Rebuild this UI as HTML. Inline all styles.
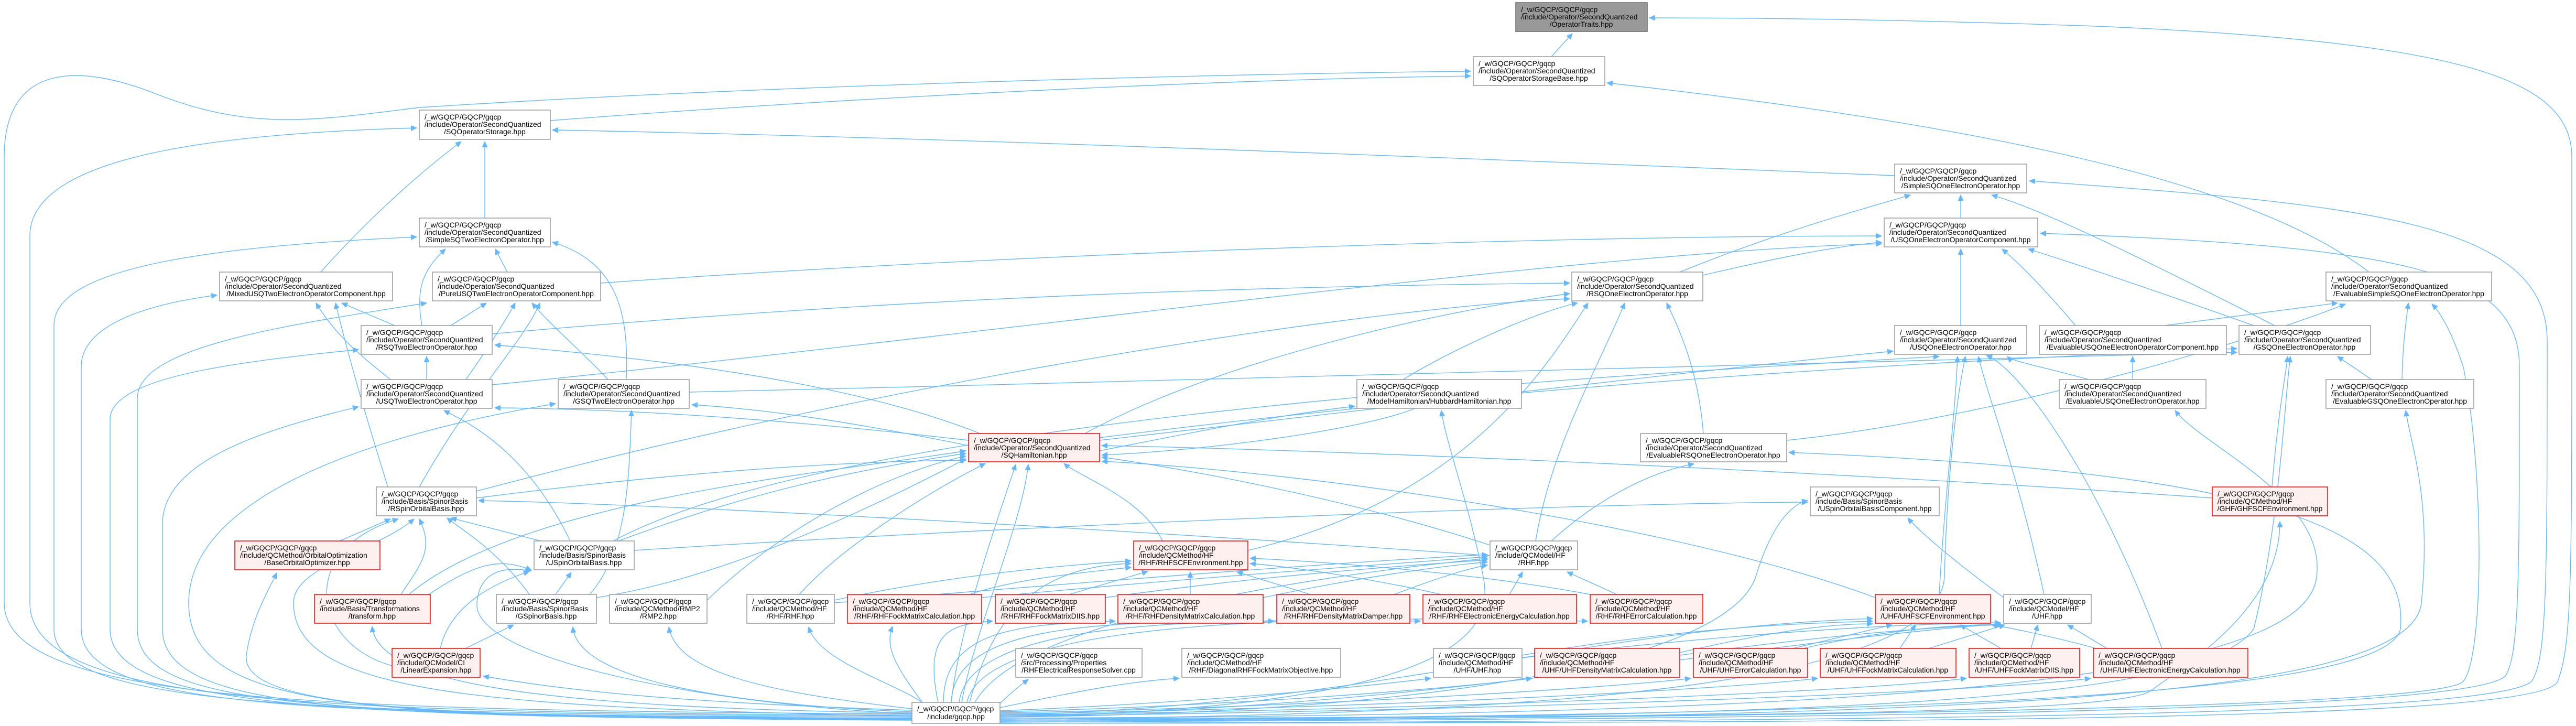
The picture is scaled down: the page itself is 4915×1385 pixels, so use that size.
<!DOCTYPE html>
<html><head><meta charset="utf-8"><style>
html,body{margin:0;padding:0;background:#fff;}
svg{display:block;}
.e{fill:none;stroke:#63b8ff;stroke-width:1.4;marker-end:url(#a);}
.n{fill:#fff;stroke:#999;stroke-width:1.5;}
.r{fill:#fff0f0;stroke:#f00;stroke-width:1.5;}
.g{fill:#999;stroke:#666;stroke-width:1.5;}
text{font-family:"Liberation Sans",sans-serif;font-size:14px;fill:#000;}
.c{text-anchor:middle;}
</style></head><body>
<svg width="4915" height="1385" viewBox="0 0 4915 1385" xmlns="http://www.w3.org/2000/svg">
<defs><marker id="a" markerUnits="userSpaceOnUse" markerWidth="12" markerHeight="10" refX="11" refY="5" orient="auto"><path d="M0,0 L11,5 L0,10 z" fill="#63b8ff" stroke="#63b8ff"/></marker></defs>
<g>
<path class="e" d="M2960,108 L3000,64"/>
<path class="e" d="M1050,230 C1700,180 2400,150 2806,145"/>
<path class="e" d="M4520,519 C4300,350 3800,240 3066,158"/>
<path class="e" d="M3615,335 C2500,290 1700,260 1054,248"/>
<path class="e" d="M925,416 L925,270"/>
<path class="e" d="M612,519 C700,420 800,330 880,270"/>
<path class="e" d="M968,519 L945,475"/>
<path class="e" d="M805,621 C795,560 800,520 850,475"/>
<path class="e" d="M1195,724 C1200,600 1180,500 1054,462"/>
<path class="e" d="M753,621 L652,578"/>
<path class="e" d="M860,621 L928,578"/>
<path class="e" d="M745,724 C690,680 640,640 603,578"/>
<path class="e" d="M889,724 C920,680 960,620 983,578"/>
<path class="e" d="M1160,724 C1120,680 1050,620 1015,578"/>
<path class="e" d="M1146,540 C2000,480 3000,450 3590,450"/>
<path class="e" d="M814,724 L814,680"/>
<path class="e" d="M939,637 C1800,560 2500,545 2995,540"/>
<path class="e" d="M939,734 C1800,650 3000,480 3590,465"/>
<path class="e" d="M1315,748 C2500,720 3800,690 4268,672"/>
<path class="e" d="M1870,827 C1600,720 1200,680 944,658"/>
<path class="e" d="M1848,840 C1500,800 1200,780 944,778"/>
<path class="e" d="M1848,850 C1600,800 1450,780 1320,772"/>
<path class="e" d="M2070,827 C2300,700 2700,600 2995,560"/>
<path class="e" d="M2098,840 C2800,760 3300,700 3612,670"/>
<path class="e" d="M2098,835 C3000,720 3900,680 4268,665"/>
<path class="e" d="M2098,860 C2300,820 2450,790 2585,775"/>
<path class="e" d="M2677,724 C2800,650 2950,590 3010,578"/>
<path class="e" d="M2700,779 C2600,820 2300,860 2102,868"/>
<path class="e" d="M909,937 C1800,700 2700,580 2995,570"/>
<path class="e" d="M909,950 C1300,900 1600,880 1843,878"/>
<path class="e" d="M740,929 C700,800 670,700 640,578"/>
<path class="e" d="M800,929 C900,750 1000,650 1030,578"/>
<path class="e" d="M1032,1032 L860,988"/>
<path class="e" d="M1088,1032 C1000,850 880,800 847,783"/>
<path class="e" d="M1210,1050 C2000,1000 3000,960 3449,958"/>
<path class="e" d="M1180,1032 C1400,950 1600,900 1843,865"/>
<path class="e" d="M1170,1032 C1600,800 3000,720 3700,680"/>
<path class="e" d="M1010,1134 C950,1050 880,1010 853,988"/>
<path class="e" d="M1060,1134 L1090,1092"/>
<path class="e" d="M1125,1134 C1200,1050 1200,900 1205,783"/>
<path class="e" d="M1138,1140 C1400,1100 1700,950 1843,875"/>
<path class="e" d="M765,1134 C800,1080 830,1050 800,990"/>
<path class="e" d="M818,1134 C900,1080 950,1060 1014,1088"/>
<path class="e" d="M780,1134 C1000,950 1600,900 1843,860"/>
<path class="e" d="M648,1032 L745,990"/>
<path class="e" d="M888,1237 L980,1192"/>
<path class="e" d="M840,1237 C860,1150 950,1110 1010,1090"/>
<path class="e" d="M748,1270 C600,1230 560,1050 760,990"/>
<path class="e" d="M1349,1145 C1500,1000 1700,900 1843,870"/>
<path class="e" d="M1592,1145 C1800,1100 2000,1080 2158,1070"/>
<path class="e" d="M1592,1150 C2200,1100 2600,1070 2838,1058"/>
<path class="e" d="M1525,1134 C1600,1050 1750,950 1880,884"/>
<path class="e" d="M2218,1032 C2180,950 2060,910 2030,884"/>
<path class="e" d="M2381,1050 C2800,950 2950,700 3030,578"/>
<path class="e" d="M2843,1040 C2600,960 2300,900 2102,872"/>
<path class="e" d="M2930,1032 C2960,850 3050,700 3100,578"/>
<path class="e" d="M2960,1032 C3050,950 3150,900 3232,885"/>
<path class="e" d="M2843,1060 C2000,1000 1200,960 913,955"/>
<path class="e" d="M1850,1134 C1950,1100 2100,1090 2158,1082"/>
<path class="e" d="M1873,1140 C2300,1100 2600,1080 2838,1062"/>
<path class="e" d="M2040,1134 L2190,1090"/>
<path class="e" d="M2109,1140 C2400,1100 2600,1085 2838,1068"/>
<path class="e" d="M2271,1134 L2271,1091"/>
<path class="e" d="M2410,1140 C2600,1100 2750,1080 2838,1072"/>
<path class="e" d="M2500,1134 L2360,1091"/>
<path class="e" d="M2660,1134 C2750,1100 2800,1085 2838,1078"/>
<path class="e" d="M2750,1134 C2600,1100 2450,1080 2385,1075"/>
<path class="e" d="M2880,1134 L2905,1091"/>
<path class="e" d="M3034,1134 C2800,1090 2500,1070 2385,1065"/>
<path class="e" d="M3085,1134 L2990,1091"/>
<path class="e" d="M2904,1250 C3200,1200 3400,1190 3573,1185"/>
<path class="e" d="M2904,1255 C3300,1210 3600,1190 3817,1188"/>
<path class="e" d="M3205,1245 C3400,1200 3500,1190 3573,1190"/>
<path class="e" d="M3205,1250 C3500,1210 3700,1195 3817,1192"/>
<path class="e" d="M3420,1237 L3610,1192"/>
<path class="e" d="M3440,1237 C3600,1200 3750,1190 3817,1192"/>
<path class="e" d="M3625,1237 L3655,1192"/>
<path class="e" d="M3680,1237 L3825,1192"/>
<path class="e" d="M3818,1237 L3740,1192"/>
<path class="e" d="M3875,1237 L3888,1192"/>
<path class="e" d="M4020,1237 L3945,1192"/>
<path class="e" d="M4000,1237 C3900,1210 3820,1195 3800,1192"/>
<path class="e" d="M4125,1237 C4000,900 3850,700 3790,678"/>
<path class="e" d="M3700,1134 C3710,950 3730,800 3735,680"/>
<path class="e" d="M3578,1140 C3200,1000 2500,900 2102,880"/>
<path class="e" d="M3900,1134 C3850,900 3790,750 3775,680"/>
<path class="e" d="M3823,1140 C3700,1050 3650,1000 3640,988"/>
<path class="e" d="M4335,929 C4345,800 4360,720 4365,680"/>
<path class="e" d="M4221,950 C3500,900 2600,860 2102,850"/>
<path class="e" d="M3985,724 C3900,700 3840,690 3830,680"/>
<path class="e" d="M4069,724 L4069,680"/>
<path class="e" d="M4525,724 L4460,680"/>
<path class="e" d="M4583,724 C4585,650 4590,620 4595,578"/>
<path class="e" d="M3960,621 C3900,550 3850,500 3820,475"/>
<path class="e" d="M4130,621 L4460,578"/>
<path class="e" d="M4300,621 C4100,550 3950,500 3870,475"/>
<path class="e" d="M4340,621 C4100,500 3900,400 3800,372"/>
<path class="e" d="M3741,621 L3741,475"/>
<path class="e" d="M3205,519 C3400,440 3550,400 3645,372"/>
<path class="e" d="M3249,525 C3400,490 3500,470 3590,462"/>
<path class="e" d="M3741,416 L3741,372"/>
<path class="e" d="M3250,827 C3240,700 3200,620 3180,578"/>
<path class="e" d="M3409,840 C3800,800 4300,650 4475,580"/>
<!-- gqcp.hpp fan -->
<path class="e" d="M1740,1362 C600,1355 8,1340 8,1150 L8,300 C8,120 150,120 300,180 C480,250 600,230 800,205 C1500,160 2400,140 2806,136"/>
<path class="e" d="M1740,1364 C600,1360 57,1345 57,1150 L57,450 C57,300 400,255 795,244"/>
<path class="e" d="M1740,1366 C600,1362 103,1350 103,1200 L103,620 C103,510 400,470 795,452"/>
<path class="e" d="M1740,1368 C600,1365 155,1355 155,1200 L155,700 C155,620 280,580 414,563"/>
<path class="e" d="M1740,1370 C600,1366 262,1350 262,1200 L262,760 C262,660 550,620 814,578"/>
<path class="e" d="M1740,1371 C650,1368 210,1355 210,1200 L210,800 C210,720 450,690 684,667"/>
<path class="e" d="M1740,1372 C700,1370 310,1360 310,1200 L310,1000 C310,880 500,820 684,776"/>
<path class="e" d="M1740,1373 C700,1370 360,1360 360,1150 C360,950 700,830 1060,770"/>
<path class="e" d="M1740,1374 C800,1370 460,1350 470,1250 C480,1180 510,1130 528,1093"/>
<path class="e" d="M1740,1360 C1000,1350 720,1300 710,1195"/>
<path class="e" d="M1740,1355 C1300,1340 1100,1320 922,1290"/>
<path class="e" d="M1740,1358 C1300,1340 1100,1280 1093,1196"/>
<path class="e" d="M1740,1352 C1450,1320 1290,1280 1276,1196"/>
<path class="e" d="M1760,1340 C1700,1300 1560,1260 1543,1196"/>
<path class="e" d="M1740,1366 C900,1350 560,1320 560,1150 C560,1080 720,1050 790,990"/>
<path class="e" d="M1740,1362 C1300,1340 900,1250 910,1150 C915,1090 960,1080 1013,1089"/>
<path class="e" d="M1835,1340 C1860,1200 1950,1000 1962,886"/>
<path class="e" d="M1815,1340 C1830,1200 1900,1000 1938,886"/>
<path class="e" d="M1760,1340 C1700,1260 1690,1230 1703,1195"/>
<path class="e" d="M1790,1340 C1760,1200 1820,1190 1894,1185"/>
<path class="e" d="M1800,1340 C1800,1200 1950,1190 2128,1185"/>
<path class="e" d="M1815,1340 C1820,1190 2100,1185 2431,1185"/>
<path class="e" d="M1830,1340 C1850,1180 2300,1180 2710,1185"/>
<path class="e" d="M1845,1340 C1880,1170 2600,1175 3029,1185"/>
<path class="e" d="M1908,1342 C1930,1320 1950,1305 1962,1296"/>
<path class="e" d="M1908,1350 C2050,1320 2150,1300 2250,1294"/>
<path class="e" d="M1908,1356 C2300,1340 2600,1310 2730,1294"/>
<path class="e" d="M1908,1358 C2400,1345 2800,1310 2923,1294"/>
<path class="e" d="M1908,1360 C2500,1350 3100,1310 3226,1294"/>
<path class="e" d="M1908,1362 C2600,1352 3300,1315 3468,1294"/>
<path class="e" d="M1908,1364 C2700,1355 3550,1320 3752,1294"/>
<path class="e" d="M1908,1366 C2800,1358 3800,1320 3989,1294"/>
<path class="e" d="M1850,1340 C1900,1150 2000,1080 2158,1075"/>
<path class="e" d="M1860,1340 C1950,1180 2500,1100 2838,1065"/>
<path class="e" d="M1908,1364 C2600,1350 3000,1200 3573,1180"/>
<path class="e" d="M1908,1366 C2700,1355 3300,1230 3817,1190"/>
<path class="e" d="M1908,1368 C2800,1360 3300,1250 3350,1100 C3380,1000 3420,960 3449,955"/>
<path class="e" d="M1908,1372 C3000,1365 4000,1370 4100,1320 C4200,1250 4350,1150 4350,995"/>
<path class="e" d="M1908,1378 C3500,1370 4700,1360 4780,1290 C4807,1250 4807,1100 4807,700 C4807,520 4600,470 3893,445"/>
<path class="e" d="M1908,1380 C3500,1375 4750,1370 4830,1300 C4860,1260 4860,1100 4860,650 C4860,420 4500,390 3872,345"/>
<path class="e" d="M1908,1376 C3500,1368 4650,1350 4700,1300 C4740,1250 4740,900 4700,700 C4680,640 4660,600 4640,580"/>
<path class="e" d="M1908,1374 C3500,1365 4550,1340 4580,1200 C4600,1000 4300,900 3413,863"/>
<path class="e" d="M1908,1372 C3000,1365 3700,1300 3710,1100 C3715,900 3735,750 3750,680"/>
<path class="e" d="M1908,1374 C3500,1370 4200,1340 4300,1200 C4350,1000 4360,750 4370,680"/>
<path class="e" d="M1908,1370 C3600,1365 4400,1300 4420,1100 C4440,950 4200,850 4150,783"/>
<path class="e" d="M1908,1376 C3700,1372 4600,1340 4620,1150 C4640,950 4600,850 4590,783"/>
<path class="e" d="M1908,1368 C2800,1350 2850,1200 2830,1100 C2800,950 2760,850 2750,783"/>
<path class="e" d="M1908,1380 C3500,1378 4850,1380 4880,1300 C4907,1230 4907,1100 4907,600 L4907,300 C4907,150 4700,80 4000,50 C3600,36 3300,34 3147,34"/>
</g>
<g>
<rect class="g" x="2892" y="5" width="251" height="55"/><text x="2902" y="23">/_w/GQCP/GQCP/gqcp</text><text x="2902" y="37">/include/Operator/SecondQuantized</text><text class="c" x="3017" y="51">/OperatorTraits.hpp</text>
<rect class="n" x="2811" y="108" width="251" height="55"/><text x="2821" y="126">/_w/GQCP/GQCP/gqcp</text><text x="2821" y="140">/include/Operator/SecondQuantized</text><text class="c" x="2936" y="154">/SQOperatorStorageBase.hpp</text>
<rect class="n" x="800" y="210" width="250" height="56"/><text x="810" y="228">/_w/GQCP/GQCP/gqcp</text><text x="810" y="242">/include/Operator/SecondQuantized</text><text class="c" x="925" y="256">/SQOperatorStorage.hpp</text>
<rect class="n" x="3615" y="313" width="252" height="55"/><text x="3625" y="331">/_w/GQCP/GQCP/gqcp</text><text x="3625" y="345">/include/Operator/SecondQuantized</text><text class="c" x="3741" y="359">/SimpleSQOneElectronOperator.hpp</text>
<rect class="n" x="800" y="416" width="250" height="55"/><text x="810" y="434">/_w/GQCP/GQCP/gqcp</text><text x="810" y="448">/include/Operator/SecondQuantized</text><text class="c" x="925" y="462">/SimpleSQTwoElectronOperator.hpp</text>
<rect class="n" x="3595" y="416" width="293" height="55"/><text x="3605" y="434">/_w/GQCP/GQCP/gqcp</text><text x="3605" y="448">/include/Operator/SecondQuantized</text><text class="c" x="3741" y="462">/USQOneElectronOperatorComponent.hpp</text>
<rect class="n" x="419" y="519" width="330" height="55"/><text x="429" y="537">/_w/GQCP/GQCP/gqcp</text><text x="429" y="551">/include/Operator/SecondQuantized</text><text class="c" x="584" y="565">/MixedUSQTwoElectronOperatorComponent.hpp</text>
<rect class="n" x="825" y="519" width="321" height="55"/><text x="835" y="537">/_w/GQCP/GQCP/gqcp</text><text x="835" y="551">/include/Operator/SecondQuantized</text><text class="c" x="985" y="565">/PureUSQTwoElectronOperatorComponent.hpp</text>
<rect class="n" x="2999" y="519" width="250" height="55"/><text x="3009" y="537">/_w/GQCP/GQCP/gqcp</text><text x="3009" y="551">/include/Operator/SecondQuantized</text><text class="c" x="3124" y="565">/RSQOneElectronOperator.hpp</text>
<rect class="n" x="4438" y="519" width="316" height="55"/><text x="4448" y="537">/_w/GQCP/GQCP/gqcp</text><text x="4448" y="551">/include/Operator/SecondQuantized</text><text class="c" x="4596" y="565">/EvaluableSimpleSQOneElectronOperator.hpp</text>
<rect class="n" x="689" y="621" width="250" height="55"/><text x="699" y="639">/_w/GQCP/GQCP/gqcp</text><text x="699" y="653">/include/Operator/SecondQuantized</text><text class="c" x="814" y="667">/RSQTwoElectronOperator.hpp</text>
<rect class="n" x="3615" y="621" width="252" height="55"/><text x="3625" y="639">/_w/GQCP/GQCP/gqcp</text><text x="3625" y="653">/include/Operator/SecondQuantized</text><text class="c" x="3741" y="667">/USQOneElectronOperator.hpp</text>
<rect class="n" x="3891" y="621" width="357" height="55"/><text x="3901" y="639">/_w/GQCP/GQCP/gqcp</text><text x="3901" y="653">/include/Operator/SecondQuantized</text><text class="c" x="4069" y="667">/EvaluableUSQOneElectronOperatorComponent.hpp</text>
<rect class="n" x="4272" y="621" width="251" height="55"/><text x="4282" y="639">/_w/GQCP/GQCP/gqcp</text><text x="4282" y="653">/include/Operator/SecondQuantized</text><text class="c" x="4397" y="667">/GSQOneElectronOperator.hpp</text>
<rect class="n" x="689" y="724" width="250" height="55"/><text x="699" y="742">/_w/GQCP/GQCP/gqcp</text><text x="699" y="756">/include/Operator/SecondQuantized</text><text class="c" x="814" y="770">/USQTwoElectronOperator.hpp</text>
<rect class="n" x="1065" y="724" width="250" height="55"/><text x="1075" y="742">/_w/GQCP/GQCP/gqcp</text><text x="1075" y="756">/include/Operator/SecondQuantized</text><text class="c" x="1190" y="770">/GSQTwoElectronOperator.hpp</text>
<rect class="n" x="2589" y="724" width="314" height="55"/><text x="2599" y="742">/_w/GQCP/GQCP/gqcp</text><text x="2599" y="756">/include/Operator/SecondQuantized</text><text class="c" x="2746" y="770">/ModelHamiltonian/HubbardHamiltonian.hpp</text>
<rect class="n" x="3929" y="724" width="280" height="55"/><text x="3939" y="742">/_w/GQCP/GQCP/gqcp</text><text x="3939" y="756">/include/Operator/SecondQuantized</text><text class="c" x="4069" y="770">/EvaluableUSQOneElectronOperator.hpp</text>
<rect class="n" x="4438" y="724" width="282" height="55"/><text x="4448" y="742">/_w/GQCP/GQCP/gqcp</text><text x="4448" y="756">/include/Operator/SecondQuantized</text><text class="c" x="4579" y="770">/EvaluableGSQOneElectronOperator.hpp</text>
<rect class="r" x="1848" y="827" width="250" height="54"/><text x="1858" y="845">/_w/GQCP/GQCP/gqcp</text><text x="1858" y="859">/include/Operator/SecondQuantized</text><text class="c" x="1973" y="873">/SQHamiltonian.hpp</text>
<rect class="n" x="3130" y="827" width="279" height="54"/><text x="3140" y="845">/_w/GQCP/GQCP/gqcp</text><text x="3140" y="859">/include/Operator/SecondQuantized</text><text class="c" x="3269" y="873">/EvaluableRSQOneElectronOperator.hpp</text>
<rect class="n" x="718" y="929" width="191" height="55"/><text x="728" y="947">/_w/GQCP/GQCP/gqcp</text><text x="728" y="961">/include/Basis/SpinorBasis</text><text class="c" x="813" y="975">/RSpinOrbitalBasis.hpp</text>
<rect class="n" x="3454" y="929" width="246" height="55"/><text x="3464" y="947">/_w/GQCP/GQCP/gqcp</text><text x="3464" y="961">/include/Basis/SpinorBasis</text><text class="c" x="3577" y="975">/USpinOrbitalBasisComponent.hpp</text>
<rect class="r" x="4221" y="929" width="220" height="55"/><text x="4231" y="947">/_w/GQCP/GQCP/gqcp</text><text x="4231" y="961">/include/QCMethod/HF</text><text class="c" x="4331" y="975">/GHF/GHFSCFEnvironment.hpp</text>
<rect class="r" x="448" y="1032" width="277" height="55"/><text x="458" y="1050">/_w/GQCP/GQCP/gqcp</text><text x="458" y="1064">/include/QCMethod/OrbitalOptimization</text><text class="c" x="586" y="1078">/BaseOrbitalOptimizer.hpp</text>
<rect class="n" x="1019" y="1032" width="191" height="55"/><text x="1029" y="1050">/_w/GQCP/GQCP/gqcp</text><text x="1029" y="1064">/include/Basis/SpinorBasis</text><text class="c" x="1114" y="1078">/USpinOrbitalBasis.hpp</text>
<rect class="r" x="2163" y="1032" width="218" height="55"/><text x="2173" y="1050">/_w/GQCP/GQCP/gqcp</text><text x="2173" y="1064">/include/QCMethod/HF</text><text class="c" x="2272" y="1078">/RHF/RHFSCFEnvironment.hpp</text>
<rect class="n" x="2843" y="1032" width="167" height="55"/><text x="2853" y="1050">/_w/GQCP/GQCP/gqcp</text><text x="2853" y="1064">/include/QCModel/HF</text><text class="c" x="2926" y="1078">/RHF.hpp</text>
<rect class="r" x="600" y="1134" width="221" height="55"/><text x="610" y="1152">/_w/GQCP/GQCP/gqcp</text><text x="610" y="1166">/include/Basis/Transformations</text><text class="c" x="710" y="1180">/transform.hpp</text>
<rect class="n" x="947" y="1134" width="191" height="55"/><text x="957" y="1152">/_w/GQCP/GQCP/gqcp</text><text x="957" y="1166">/include/Basis/SpinorBasis</text><text class="c" x="1042" y="1180">/GSpinorBasis.hpp</text>
<rect class="n" x="1163" y="1134" width="186" height="55"/><text x="1173" y="1152">/_w/GQCP/GQCP/gqcp</text><text x="1173" y="1166">/include/QCMethod/RMP2</text><text class="c" x="1256" y="1180">/RMP2.hpp</text>
<rect class="n" x="1425" y="1134" width="167" height="55"/><text x="1435" y="1152">/_w/GQCP/GQCP/gqcp</text><text x="1435" y="1166">/include/QCMethod/HF</text><text class="c" x="1508" y="1180">/RHF/RHF.hpp</text>
<rect class="r" x="1617" y="1134" width="256" height="55"/><text x="1627" y="1152">/_w/GQCP/GQCP/gqcp</text><text x="1627" y="1166">/include/QCMethod/HF</text><text class="c" x="1745" y="1180">/RHF/RHFFockMatrixCalculation.hpp</text>
<rect class="r" x="1899" y="1134" width="210" height="55"/><text x="1909" y="1152">/_w/GQCP/GQCP/gqcp</text><text x="1909" y="1166">/include/QCMethod/HF</text><text class="c" x="2004" y="1180">/RHF/RHFFockMatrixDIIS.hpp</text>
<rect class="r" x="2133" y="1134" width="277" height="55"/><text x="2143" y="1152">/_w/GQCP/GQCP/gqcp</text><text x="2143" y="1166">/include/QCMethod/HF</text><text class="c" x="2271" y="1180">/RHF/RHFDensityMatrixCalculation.hpp</text>
<rect class="r" x="2436" y="1134" width="254" height="55"/><text x="2446" y="1152">/_w/GQCP/GQCP/gqcp</text><text x="2446" y="1166">/include/QCMethod/HF</text><text class="c" x="2563" y="1180">/RHF/RHFDensityMatrixDamper.hpp</text>
<rect class="r" x="2715" y="1134" width="293" height="55"/><text x="2725" y="1152">/_w/GQCP/GQCP/gqcp</text><text x="2725" y="1166">/include/QCMethod/HF</text><text class="c" x="2861" y="1180">/RHF/RHFElectronicEnergyCalculation.hpp</text>
<rect class="r" x="3034" y="1134" width="215" height="55"/><text x="3044" y="1152">/_w/GQCP/GQCP/gqcp</text><text x="3044" y="1166">/include/QCMethod/HF</text><text class="c" x="3141" y="1180">/RHF/RHFErrorCalculation.hpp</text>
<rect class="r" x="3578" y="1134" width="220" height="55"/><text x="3588" y="1152">/_w/GQCP/GQCP/gqcp</text><text x="3588" y="1166">/include/QCMethod/HF</text><text class="c" x="3688" y="1180">/UHF/UHFSCFEnvironment.hpp</text>
<rect class="n" x="3823" y="1134" width="167" height="55"/><text x="3833" y="1152">/_w/GQCP/GQCP/gqcp</text><text x="3833" y="1166">/include/QCModel/HF</text><text class="c" x="3906" y="1180">/UHF.hpp</text>
<rect class="r" x="748" y="1237" width="168" height="55"/><text x="758" y="1255">/_w/GQCP/GQCP/gqcp</text><text x="758" y="1269">/include/QCModel/CI</text><text class="c" x="832" y="1283">/LinearExpansion.hpp</text>
<rect class="n" x="1938" y="1237" width="241" height="55"/><text x="1948" y="1255">/_w/GQCP/GQCP/gqcp</text><text x="1948" y="1269">/src/Processing/Properties</text><text class="c" x="2058" y="1283">/RHFElectricalResponseSolver.cpp</text>
<rect class="n" x="2255" y="1237" width="303" height="55"/><text x="2265" y="1255">/_w/GQCP/GQCP/gqcp</text><text x="2265" y="1269">/include/QCMethod/HF</text><text class="c" x="2406" y="1283">/RHF/DiagonalRHFFockMatrixObjective.hpp</text>
<rect class="n" x="2735" y="1237" width="169" height="55"/><text x="2745" y="1255">/_w/GQCP/GQCP/gqcp</text><text x="2745" y="1269">/include/QCMethod/HF</text><text class="c" x="2819" y="1283">/UHF/UHF.hpp</text>
<rect class="r" x="2928" y="1237" width="277" height="55"/><text x="2938" y="1255">/_w/GQCP/GQCP/gqcp</text><text x="2938" y="1269">/include/QCMethod/HF</text><text class="c" x="3066" y="1283">/UHF/UHFDensityMatrixCalculation.hpp</text>
<rect class="r" x="3231" y="1237" width="218" height="55"/><text x="3241" y="1255">/_w/GQCP/GQCP/gqcp</text><text x="3241" y="1269">/include/QCMethod/HF</text><text class="c" x="3340" y="1283">/UHF/UHFErrorCalculation.hpp</text>
<rect class="r" x="3473" y="1237" width="259" height="55"/><text x="3483" y="1255">/_w/GQCP/GQCP/gqcp</text><text x="3483" y="1269">/include/QCMethod/HF</text><text class="c" x="3602" y="1283">/UHF/UHFFockMatrixCalculation.hpp</text>
<rect class="r" x="3757" y="1237" width="211" height="55"/><text x="3767" y="1255">/_w/GQCP/GQCP/gqcp</text><text x="3767" y="1269">/include/QCMethod/HF</text><text class="c" x="3862" y="1283">/UHF/UHFFockMatrixDIIS.hpp</text>
<rect class="r" x="3994" y="1237" width="295" height="55"/><text x="4004" y="1255">/_w/GQCP/GQCP/gqcp</text><text x="4004" y="1269">/include/QCMethod/HF</text><text class="c" x="4141" y="1283">/UHF/UHFElectronicEnergyCalculation.hpp</text>
<rect class="n" x="1740" y="1340" width="168" height="40"/><text x="1750" y="1357">/_w/GQCP/GQCP/gqcp</text><text class="c" x="1824" y="1372">/include/gqcp.hpp</text>
</g>
</svg>
</body></html>
